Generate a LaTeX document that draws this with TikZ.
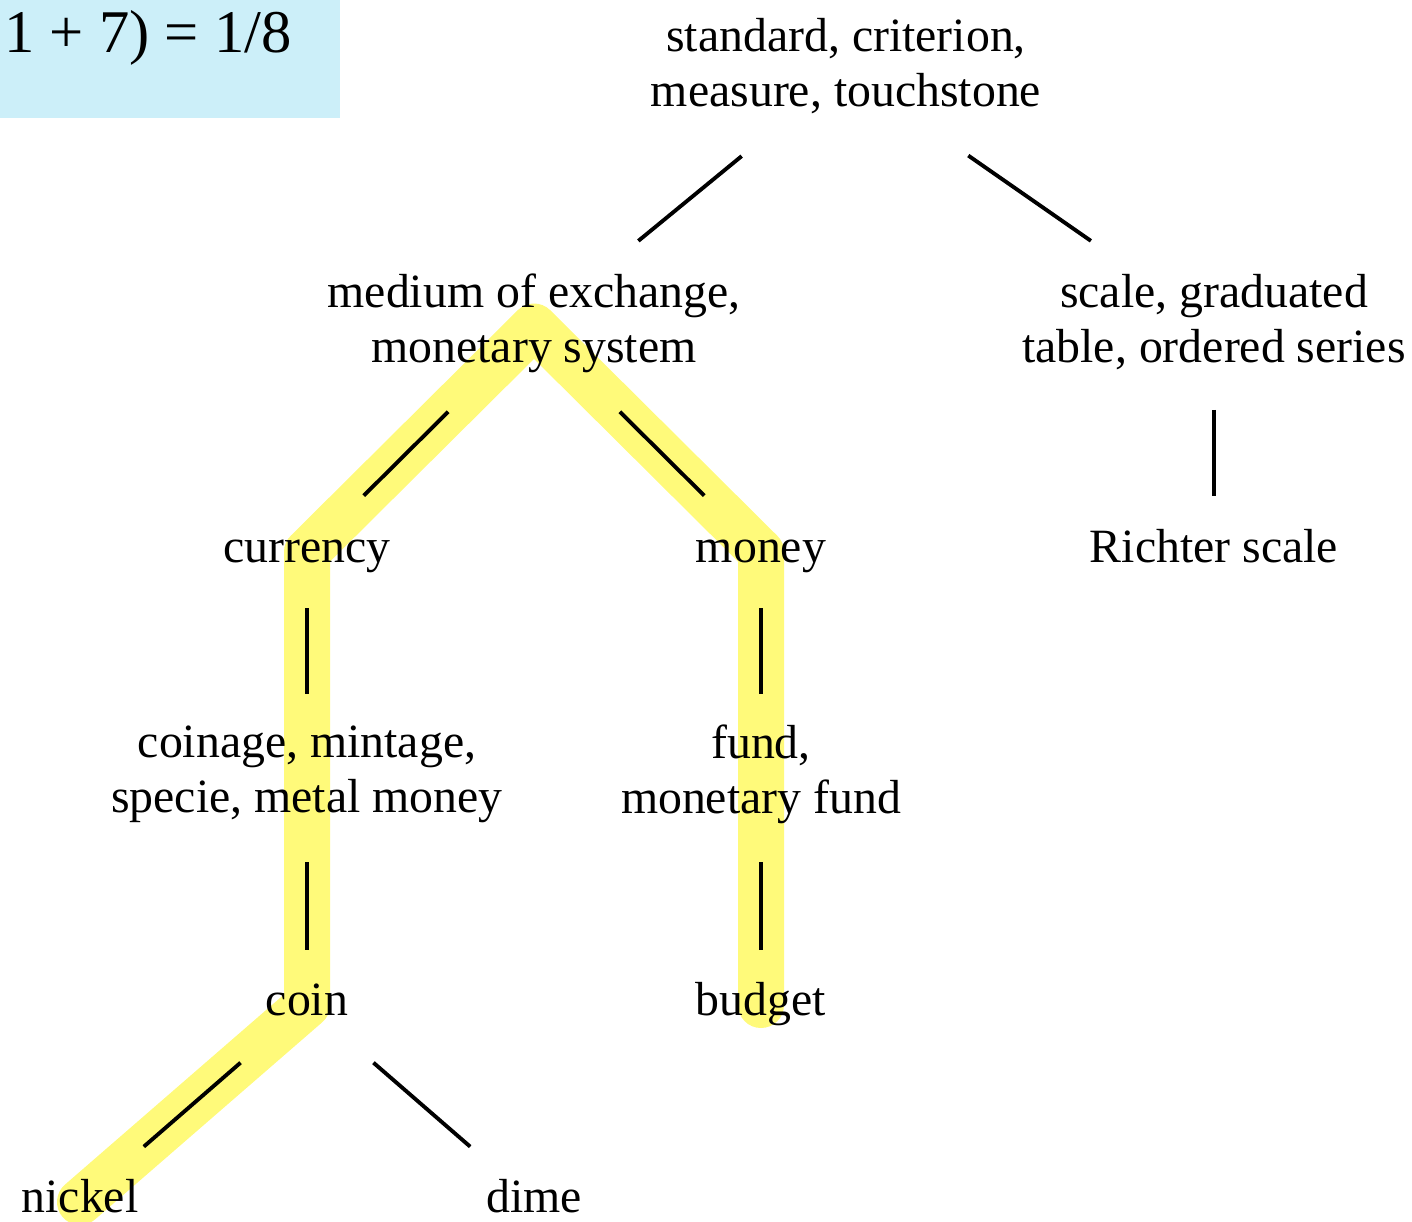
\documentclass[tikz,border=0pt]{standalone}
\usepackage{fontspec}
\setmainfont{Liberation Serif}
\usepackage{tikz}
\usetikzlibrary{positioning}

\definecolor{boxblue}{RGB}{204,239,249}
\definecolor{hlyellow}{RGB}{255,250,122}
\pgfdeclarelayer{background}
\pgfsetlayers{background,main}

\begin{document}
\begin{tikzpicture}[x=0.02cm,y=-0.02cm,
	every node/.style={align=center,font=\fontsize{27.2}{31.2}\selectfont,
		execute at begin node=\strut,execute at end node=\strut},
	link/.style={line width=2.2pt},
	hl/.style={line width=0.92cm,hlyellow,line cap=round,line join=round}]
	\useasboundingbox (0,0) rectangle (1412,1221);

	% corner box
	\fill[boxblue] (0,0) rectangle (340,118);
	\node[anchor=base west,inner sep=0pt,font=\fontsize{34.5}{40}\selectfont,
		execute at begin node={},execute at end node={}] (frac) at (4,52) {1 + 7) = 1/8};

	\node (top) at (846,70.5) {standard, criterion,\\measure, touchstone};
	\node (med) at (534,326.5) {medium of exchange,\\monetary system};
	\node (scale) at (1214,326.5) {scale, graduated\\table, ordered series};
	\node (cur) at (307,552) {currency};
	\node (money) at (761,552) {money};
	\node (rich) at (1214,552) {Richter scale};
	\node (coinage) at (307,777.5) {coinage, mintage,\\specie, metal money};
	\node (fund) at (761,777.5) {fund,\\monetary fund};
	\node (coin) at (307,1005) {coin};
	\node (budget) at (761,1005) {budget};
	\node (nickel) at (80,1202) {nickel};
	\node (dime) at (534,1202) {dime};

	% highlighted path
	\begin{pgfonlayer}{background}
	\draw[hl] (nickel.center) -- (coin.center) -- (cur.center) -- (med.center)
		-- (money.center) -- (budget.center);
	\end{pgfonlayer}

	\draw[link,shorten <=2.7cm,shorten >=2.7cm] (top.center) -- (med.center);
	\draw[link,shorten <=2.98cm,shorten >=3cm] (top.center) -- (scale.center);
	\draw[link,shorten <=2.42cm,shorten >=1.6cm] (med.center) -- (cur.center);
	\draw[link,shorten <=2.42cm,shorten >=1.6cm] (med.center) -- (money.center);
	\draw[link,shorten <=1.67cm,shorten >=1.12cm] (scale.center) -- (rich.center);
	\draw[link,shorten <=1.12cm,shorten >=1.67cm] (cur.center) -- (coinage.center);
	\draw[link,shorten <=1.69cm,shorten >=1.1cm] (coinage.center) -- (coin.center);
	\draw[link,shorten <=1.12cm,shorten >=1.67cm] (money.center) -- (fund.center);
	\draw[link,shorten <=1.69cm,shorten >=1.1cm] (fund.center) -- (budget.center);
	\draw[link,shorten <=1.76cm,shorten >=1.69cm] (coin.center) -- (nickel.center);
	\draw[link,shorten <=1.76cm,shorten >=1.69cm] (coin.center) -- (dime.center);
\end{tikzpicture}
\end{document}
